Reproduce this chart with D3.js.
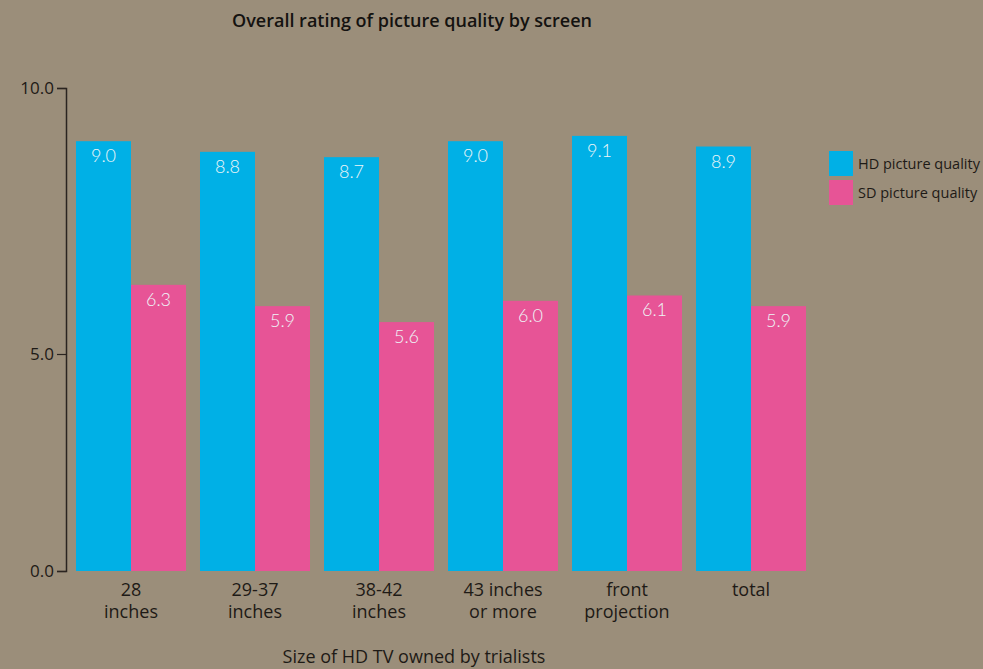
<!DOCTYPE html>
<html>
    <head>
        <script src="https://d3js.org/d3.v7.min.js"></script>
        <style>
            body { margin: 0; background: #9b8e7a; }
            svg text { font-family: "Open Sans", sans-serif; }
        </style>
    </head>
    <body>
        <div id="vizBody"></div>
    </body>
    <script>
        // data
        let categories = [["28", "inches"], ["29-37", "inches"], ["38-42", "inches"],
                          ["43 inches", "or more"], ["front", "projection"], ["total"]];
        let hdValues = [9.0, 8.8, 8.7, 9.0, 9.1, 8.9];
        let sdValues = [6.3, 5.9, 5.6, 6.0, 6.1, 5.9];
        let seriesNames = ["HD picture quality", "SD picture quality"];
        let yTicks = [0, 5, 10];

        let colors = ["#00b0e6", "#e75496"];
        let width = 983, height = 669;

        let svg = d3.select("#vizBody")
                    .append("svg")
                        .attr("width", width)
                        .attr("height", height);

        // x band per group, then inner band per series
        let x0 = d3.scaleBand()
                   .domain(d3.range(categories.length))
                   .range([76, 806])
                   .paddingInner(0.1129)
                   .paddingOuter(0);
        let x1 = d3.scaleBand()
                   .domain([0, 1])
                   .range([0, x0.bandwidth()]);

        // the original axis is not evenly spaced, so a piecewise scale follows it
        let y = d3.scaleLinear()
                  .domain([0, 5, 10])
                  .range([571, 354, 88]);

        // axis
        let axis = svg.append("g")
                      .attr("transform", "translate(66,0)")
                      .call(d3.axisLeft(y).tickValues(yTicks).tickFormat(d3.format(".1f")).tickSizeOuter(0).tickSize(9).tickPadding(3));
        axis.select(".domain").attr("stroke", "#2a2420").attr("stroke-width", 1.5);
        axis.selectAll(".tick line").attr("stroke", "#2a2420").attr("stroke-width", 1.2);
        axis.selectAll(".tick text")
            .attr("fill", "#1e1a16")
            .style("font-size", "17px")
            .style("font-family", "'Open Sans', sans-serif");

        let rows = categories.map((c, i) => ({i: i, values: [hdValues[i], sdValues[i]]}));

        let groups = svg.selectAll(".grp")
                        .data(rows)
                        .enter()
                        .append("g")
                            .attr("class", "grp")
                            .attr("transform", d => "translate(" + x0(d.i) + ",0)");

        let bars = groups.selectAll("g.bar")
                         .data(d => d.values.map((v, s) => ({v: v, s: s})))
                         .enter()
                         .append("g")
                            .attr("class", "bar");

        bars.append("rect")
            .attr("x", d => x1(d.s))
            .attr("y", d => y(d.v))
            .attr("width", x1.bandwidth())
            .attr("height", d => y(0) - y(d.v))
            .attr("fill", d => colors[d.s]);

        bars.append("text")
            .attr("x", d => x1(d.s) + x1.bandwidth() / 2)
            .attr("y", d => y(d.v) + 21)
            .attr("text-anchor", "middle")
            .attr("fill", "#eef6f8")
            .style("font-size", "18px")
            .style("font-family", "Lato, sans-serif")
            .style("font-weight", "300")
            .text(d => d.v.toFixed(1));

        // category labels, one text per line
        groups.selectAll("text.cat")
              .data(d => categories[d.i])
              .enter()
              .append("text")
                  .attr("class", "cat")
                  .attr("text-anchor", "middle")
                  .attr("fill", "#1e1a16")
                  .style("font-size", "18px")
                  .attr("x", x0.bandwidth() / 2)
                  .attr("y", (d, k) => 596 + k * 22)
                  .text(d => d);

        // title and axis title
        svg.append("text")
           .attr("x", 412).attr("y", 27)
           .attr("text-anchor", "middle")
           .attr("fill", "#141210")
           .style("font-size", "18px")
           .style("font-weight", "600")
           .text("Overall rating of picture quality by screen");

        svg.append("text")
           .attr("x", 414).attr("y", 663)
           .attr("text-anchor", "middle")
           .attr("fill", "#1e1a16")
           .style("font-size", "18px")
           .text("Size of HD TV owned by trialists");

        // legend
        let legend = svg.selectAll(".leg")
                        .data(seriesNames)
                        .enter()
                        .append("g")
                            .attr("class", "leg")
                            .attr("transform", (d, i) => "translate(829," + (151 + i * 29) + ")");
        legend.append("rect")
              .attr("width", 24).attr("height", 25)
              .attr("fill", (d, i) => colors[i]);
        legend.append("text")
              .attr("x", 29).attr("y", 18)
              .attr("fill", "#1e1a16")
              .style("font-size", "14.5px")
              .text(d => d);
    </script>
</html>
